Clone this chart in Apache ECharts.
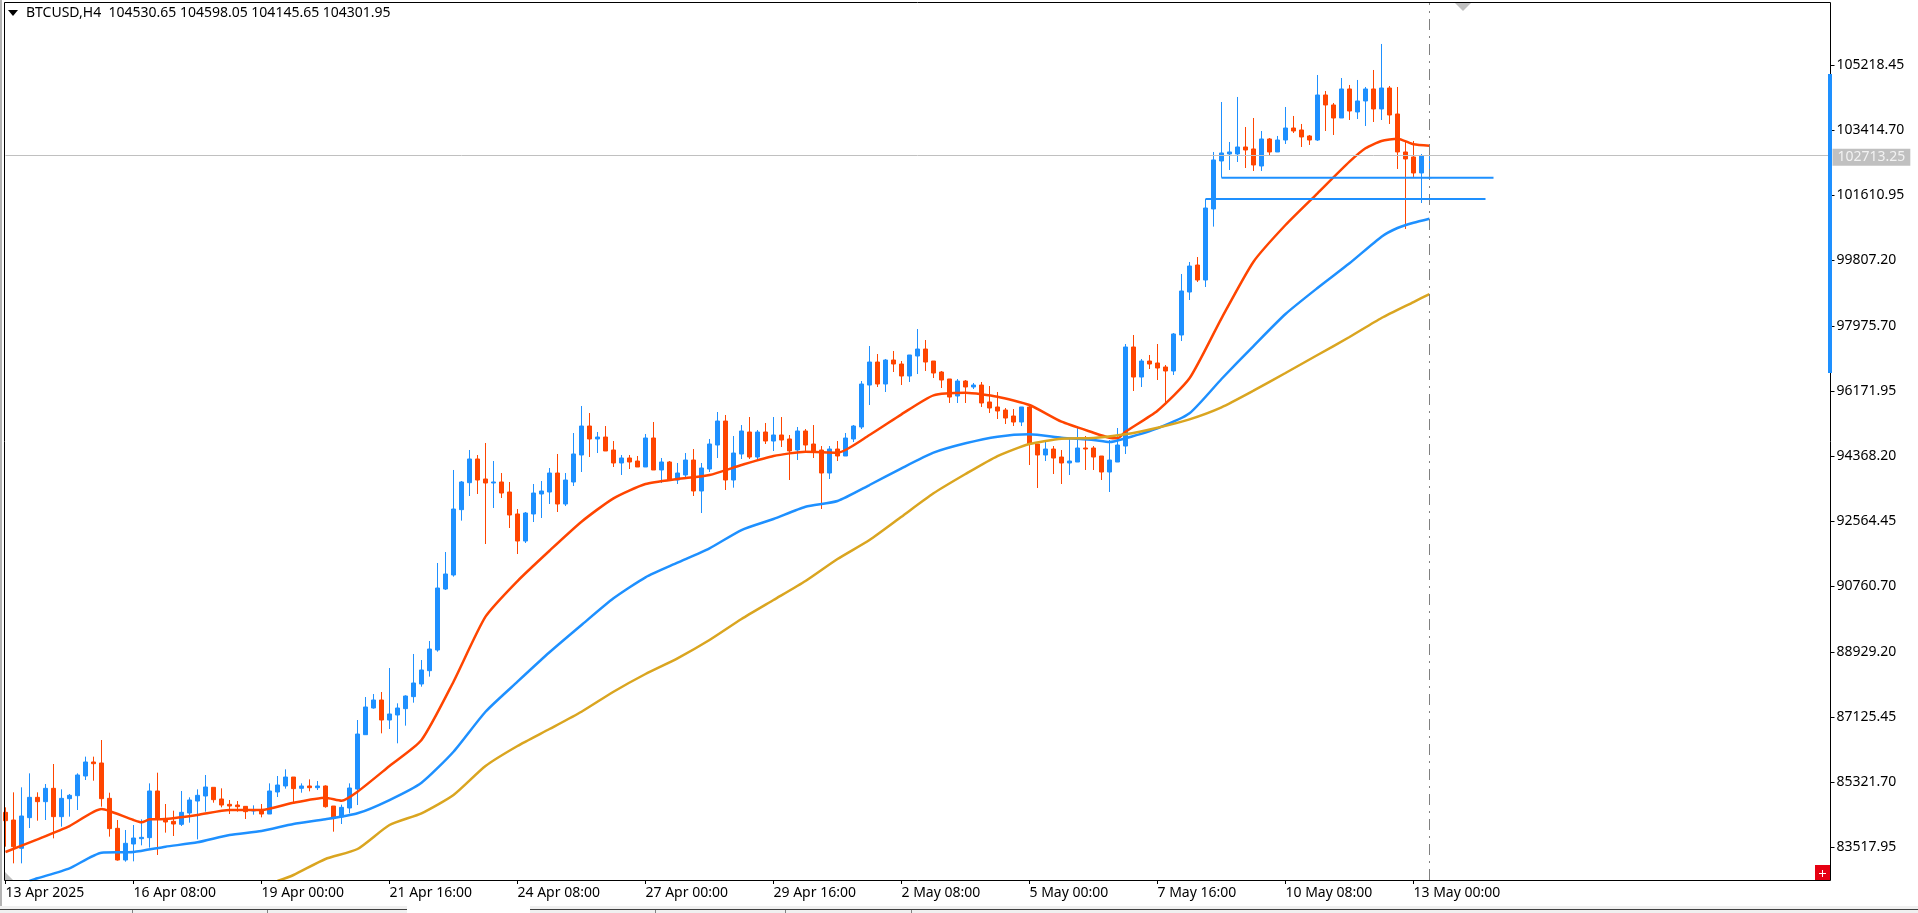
<!DOCTYPE html>
<html>
<head>
<meta charset="utf-8">
<title>BTCUSD,H4</title>
<style>
  html, body { margin: 0; padding: 0; background: #fff; overflow: hidden; }
  #chart { width: 1918px; height: 913px; }
</style>
<script src="https://cdn.jsdelivr.net/npm/echarts@6/dist/echarts.min.js"></script>
</head>
<body>
<div id="chart"></div>
<script>
// BTCUSD 4-hour bars, one entry per bar.
const open = [84480,84267,83481,84332,84896,84776,85146,84360,84859,84942,85488,85877,85849,84868,84036,83157,83601,83749,83777,85072,
84286,84230,84147,84461,84794,84933,85174,84850,84702,84683,84646,84517,84535,84433,85044,85211,85460,85146,85211,85164,
85211,84655,84350,84600,85127,86635,87375,87597,87042,87181,87357,87690,88041,88411,88985,90677,91066,92879,93628,94285,
93730,93619,93647,93369,92759,92009,92759,93314,93369,93896,93036,93647,94396,95200,94840,94895,94535,94174,94313,94229,
94063,94868,93980,94202,93702,93841,94257,93397,94007,94673,95339,93702,94423,95034,94340,95034,94784,94951,94840,94534,
95062,94701,94534,93896,94562,94368,94840,95173,96338,96976,96366,97032,96921,96588,97143,97337,97004,96699,96505,96033,
96449,96283,96338,95867,95728,95644,95478,95311,95728,94701,94396,94562,94340,94174,94201,94590,94590,94368,93924,94201,
94645,97393,96560,97004,96949,96838,96727,97726,98919,99668,99252,101223,102555,102749,102749,102943,102888,102416,103165,102805,
103137,103470,103415,103249,103137,104386,104109,103748,104553,103915,104220,104553,103998,104580,103859,102805,102666,102222,102092];
const high = [84618,85035,85174,85562,85035,85266,85821,85118,84989,85562,86025,86025,86487,85025,84267,83990,84128,84286,85284,85580,
84711,84526,85072,84896,85118,85516,85174,85146,84822,84794,84655,84674,84711,85284,85488,85673,85460,85284,85395,85349,
85229,84655,84693,85284,87042,87680,87763,87819,88485,87505,87727,88874,88707,89234,91399,91704,93980,93674,94535,94396,
94729,94229,93896,93647,92897,92814,93591,93674,94035,94424,93896,95006,95756,95561,95034,95200,94784,94396,94396,94368,
94979,95312,94313,94229,94174,94451,94562,94174,94840,95589,95506,94923,95228,95450,95090,95284,95450,95450,94951,95173,
95117,95228,94645,94645,94784,95006,95228,96449,97420,97198,97060,97282,97004,97171,97892,97587,97004,96727,96505,96505,
96477,96394,96422,96310,96144,95700,95672,95728,95756,94701,94784,94645,94534,94840,95145,94923,94645,94368,94812,95145,
97476,97726,97060,97171,97476,96893,97781,99419,99752,99890,101500,102805,104192,103082,104331,103498,103748,103387,103193,103249,
104053,103804,103582,103276,104941,104497,104164,104858,104664,104803,104608,105080,105802,104636,104608,103110,103110,102749,102999];
const low = [83527,83064,83064,84045,84248,84267,83758,84082,84360,84545,85377,85358,84637,83805,83139,83111,83120,83564,83499,83296,
83916,83823,84100,84193,83730,84498,84748,84618,84433,84498,84295,84415,84341,84433,84905,85137,84766,85025,85063,85100,
84609,83943,84156,84452,84683,86635,87357,86672,86792,86395,86885,87523,87967,88245,88938,90650,91020,92574,93258,93314,
91926,92925,93203,92370,91648,91954,92536,92648,93036,92814,92980,93536,93924,94340,94451,94507,94063,93841,94007,94063,
94063,93980,93619,93702,93591,93730,93258,92786,93924,94312,93425,93489,94285,94285,94257,94701,94507,94618,93702,94257,
94507,94312,92897,93730,94229,94368,94757,95117,95783,96283,96144,96699,96338,96422,96643,96727,96532,96255,95839,95839,
95839,96227,95728,95561,95395,95256,95200,95200,94118,93480,94229,93868,93591,93841,94201,93980,93980,93702,93369,94201,
94424,96172,96283,96782,96477,95783,96616,97559,98697,99197,99058,100733,102092,102305,102527,102360,102277,102277,102721,102805,
103027,103332,102943,102999,103110,103387,103276,103748,103692,103720,103526,103637,103692,103581,102333,100668,102111,101389,102092];
const close = [84248,83527,84378,84896,84776,85146,84360,84868,84952,85516,85877,85830,84859,84027,83157,83620,83767,83786,85072,84286,
84212,84156,84480,84822,84952,85183,84831,84683,84655,84637,84498,84545,84433,85072,85238,85460,85137,85211,85164,85211,
84637,84350,84618,85155,86653,87403,87597,87042,87209,87375,87708,88069,88430,89012,90705,91094,92897,93647,94285,93702,
93619,93647,93341,92731,92009,92786,93341,93397,93896,93036,93702,94424,95200,94840,94895,94507,94174,94313,94202,94063,
94868,93980,94202,93702,93896,94257,93397,94035,94701,95339,93702,94451,95062,94340,95034,94784,94951,94812,94507,95062,
94673,94479,93896,94562,94368,94867,95200,96366,96976,96366,97032,96921,96588,97171,97337,96976,96671,96477,96005,96449,
96283,96338,95839,95700,95617,95422,95311,95728,94701,94396,94562,94312,94174,94229,94590,94562,94340,93924,94257,94673,
97393,96560,97004,96921,96810,96727,97754,98947,99640,99252,101250,102583,102777,102805,102943,102860,102444,103165,102805,103137,
103470,103387,103221,103137,104386,104109,103748,104553,103942,104220,104553,103998,104580,103831,102805,102610,102222,102694,102092];

// Moving averages as [bar, price] pairs.
const fastMa = [[0,83379],[4,83731],[8,84100],[12,84572],[13,84517],[16,84267],[17,84203],[18,84285],[20,84295],[24,84406],[28,84545],[32,84545],[36,84747],[40,84886],[42,84803],[44,85052],[48,85766],[52,86487],[56,88105],[60,89909],[64,90899],[68,91740],[72,92545],[76,93194],[80,93591],[84,93730],[88,93841],[92,94118],[96,94368],[100,94487],[104,94460],[108,94951],[112,95525],[116,96052],[120,96125],[124,96014],[128,95783],[132,95320],[136,95015],[138,94876],[139,94859],[140,95042],[144,95625],[148,96524],[152,98189],[156,99760],[160,100778],[164,101658],[168,102535],[170,102907],[172,103109],[174,103173],[176,103018],[178,102979]];
const midMa = [[3,82574],[4,82649],[8,82927],[12,83360],[16,83379],[20,83526],[24,83648],[28,83851],[32,83962],[36,84156],[40,84286],[44,84453],[48,84822],[52,85302],[56,86162],[60,87272],[64,88105],[68,88921],[72,89678],[76,90419],[80,91002],[84,91407],[88,91807],[92,92314],[96,92620],[100,92961],[104,93119],[108,93563],[112,94027],[116,94460],[120,94720],[124,94904],[128,94970],[132,94876],[136,94812],[138,94756],[140,94859],[144,95137],[148,95553],[152,96505],[156,97420],[160,98308],[164,99030],[168,99715],[172,100454],[174,100695],[176,100842],[178,100953]];
const slowMa = [[34,82574],[36,82741],[40,83185],[44,83462],[48,84128],[52,84453],[56,84961],[60,85766],[64,86321],[68,86792],[72,87272],[76,87827],[80,88319],[84,88754],[88,89262],[92,89845],[96,90372],[100,90899],[104,91510],[108,92037],[112,92684],[116,93333],[120,93869],[124,94368],[128,94701],[132,94848],[136,94868],[140,94970],[144,95153],[148,95386],[152,95719],[156,96180],[160,96671],[164,97171],[168,97670],[172,98197],[176,98641],[178,98863]];

// Horizontal levels drawn from the breakout bars out past the last bar.
const upperLevel = [[152,102092],[186,102092]];
const lowerLevel = [[150,101500],[185,101500]];

const lastPrice = 102713.25;
const lastBar = 178;
const barSlots = 229;
const tickEvery = 16;
const timeLabels = ['13 Apr 2025','16 Apr 08:00','19 Apr 00:00','21 Apr 16:00','24 Apr 08:00','27 Apr 00:00','29 Apr 16:00','2 May 08:00','5 May 00:00','7 May 16:00','10 May 08:00','13 May 00:00'];
const priceTicks = [105218.45,103414.70,101610.95,99807.20,97975.70,96171.95,94368.20,92564.45,90760.70,88929.20,87125.45,85321.70,83517.95];
const headerText = 'BTCUSD,H4  104530.65 104598.05 104145.65 104301.95';

const UP = '#1e90ff', DOWN = '#ff4500', GOLD = '#daa520', GREY = '#c0c0c0';
const FONT = '"Noto Sans", sans-serif';
const isTick = i => i % tickEvery === 0 && i / tickEvery < timeLabels.length;

const candles = open.map((o, i) => [o, close[i], low[i], high[i]]);
const slots = Array.from({ length: barSlots }, (_, i) => i);

const maSeries = (name, data, color) => ({
  name, type: 'line', data, showSymbol: false, symbol: 'none', smooth: 0.2, z: 4,
  lineStyle: { color, width: 2.5 }, silent: true
});
const levelSeries = (name, data) => ({
  name, type: 'line', data, showSymbol: false, symbol: 'none', z: 5,
  lineStyle: { color: UP, width: 2 }, silent: true
});

const chart = echarts.init(document.getElementById('chart'), null, { renderer: 'canvas' });
chart.setOption({
  animation: false,
  backgroundColor: '#ffffff',
  textStyle: { fontFamily: FONT },
  grid: { left: 5.5, right: 88.5, top: 2, bottom: 33, containLabel: false },
  xAxis: {
    type: 'category', data: slots, boundaryGap: false,
    axisLine: { show: false },
    axisTick: { show: true, length: 4, interval: isTick, alignWithLabel: true, lineStyle: { color: '#000' } },
    axisLabel: {
      show: true, interval: isTick, align: 'left', margin: 6, color: '#000',
      fontFamily: FONT, fontSize: 14, hideOverlap: false,
      formatter: (v, i) => timeLabels[i / tickEvery]
    },
    splitLine: { show: false }
  },
  yAxis: {
    type: 'value', position: 'right', offset: 1,
    min: 82602.2, max: 106966.7, scale: true,
    axisLine: { show: false },
    axisTick: { show: true, length: 4, customValues: priceTicks, lineStyle: { color: '#000' } },
    axisLabel: {
      show: true, customValues: priceTicks, margin: 6, color: '#000', padding: [2, 0, 0, 0],
      fontFamily: FONT, fontSize: 14,
      formatter: v => v.toFixed(2)
    },
    splitLine: { show: false }
  },
  series: [
    {
      name: 'BTCUSD', type: 'candlestick', data: candles, barWidth: 4, z: 3, silent: true,
      itemStyle: { color: UP, color0: DOWN, borderColor: UP, borderColor0: DOWN, borderColorDoji: UP, borderWidth: 1 },
      markLine: {
        silent: true, symbol: 'none', animation: false, precision: 2,
        data: [
          {
            yAxis: lastPrice,
            lineStyle: { color: GREY, width: 1, type: 'solid' },
            label: {
              show: true, position: 'end', distance: 3, formatter: lastPrice.toFixed(2),
              color: '#f2f2f2', fontFamily: FONT, fontSize: 14, lineHeight: 17,
              backgroundColor: GREY, padding: [0, 5, 0, 5], offset: [0, 2]
            }
          },
          {
            xAxis: lastBar,
            lineStyle: { color: '#808080', width: 1, type: [11, 6, 2, 6] },
            label: { show: false }
          }
        ]
      }
    },
    maSeries('EMA fast', fastMa, DOWN),
    maSeries('EMA mid', midMa, UP),
    maSeries('EMA slow', slowMa, GOLD),
    levelSeries('Upper level', upperLevel),
    levelSeries('Lower level', lowerLevel)
  ],
  graphic: [
    // terminal chrome: left strip, tab bar along the bottom
    { type: 'rect', z: 0, shape: { x: 0, y: 0, width: 2, height: 906 }, style: { fill: '#b4b4b4' } },
    { type: 'rect', z: 0, shape: { x: 0, y: 906, width: 1918, height: 7 }, style: { fill: '#f0f0f0' } },
    { type: 'rect', z: 0, shape: { x: 0, y: 909, width: 407, height: 1 }, style: { fill: '#404040' } },
    { type: 'rect', z: 0, shape: { x: 530, y: 909, width: 1388, height: 1 }, style: { fill: '#404040' } },
    { type: 'rect', z: 0, shape: { x: 407, y: 906, width: 123, height: 7 }, style: { fill: '#ffffff' } },
    ...[132, 267, 655, 785, 911].map(x => ({ type: 'rect', z: 0, shape: { x, y: 910, width: 1, height: 3 }, style: { fill: '#808080' } })),
    // plot frame
    { type: 'rect', z: 10, shape: { x: 4.5, y: 2.5, width: 1826, height: 878 }, style: { fill: 'none', stroke: '#000', lineWidth: 1 } },
    // position bar on the price scale
    { type: 'rect', z: 11, shape: { x: 1828, y: 74, width: 4, height: 299 }, style: { fill: UP } },
    // chart-shift marker and corner marker
    { type: 'polygon', z: 11, shape: { points: [[1455, 3], [1471, 3], [1463, 11]] }, style: { fill: GREY } },
    { type: 'polygon', z: 11, shape: { points: [[5, 872], [5, 880], [13, 880]] }, style: { fill: GREY } },
    // header
    { type: 'polygon', z: 11, shape: { points: [[8, 10], [18, 10], [13, 16]] }, style: { fill: '#000' } },
    { type: 'text', z: 11, x: 26, y: 13, style: { text: headerText, font: '14px ' + FONT, fill: '#000', textVerticalAlign: 'middle' } },
    // one-click trading button
    { type: 'rect', z: 11, shape: { x: 1815, y: 865, width: 15, height: 15 }, style: { fill: '#e60012' } },
    { type: 'rect', z: 12, shape: { x: 1819, y: 873, width: 7, height: 1 }, style: { fill: '#fff' } },
    { type: 'rect', z: 12, shape: { x: 1822, y: 870, width: 1, height: 7 }, style: { fill: '#fff' } }
  ]
});
</script>
</body>
</html>
